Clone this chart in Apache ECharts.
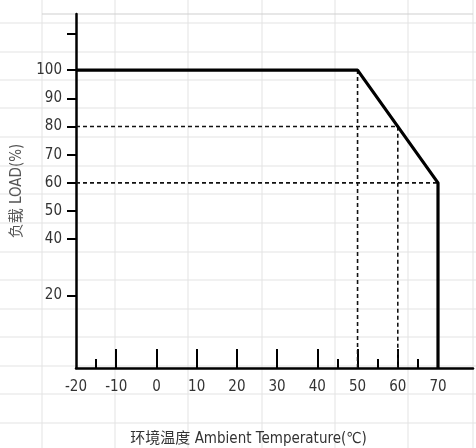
<!DOCTYPE html>
<html><head><meta charset="utf-8">
<script src="https://cdn.jsdelivr.net/npm/echarts@6/dist/echarts.min.js"></script>
<style>html,body{margin:0;padding:0;background:#fff}#c{width:476px;height:448px}</style>
</head><body><div id="c"></div>
<script>
// ---- data ----
var xMin = -20, xMax = 78.7;
var yMin = -5.7, yMax = 119.9;
var curveTemp = [-20, 50, 70, 70];
var curveLoad = [100, 100, 60, yMin];
var xLabelValues = [-20, -15, -10, 0, 10, 20, 30, 40, 50, 60, 70];
var xMajorTicks = [-10, 0, 10, 20, 30, 40, 50, 60];
var xMinorTicks = [-15, 45, 55, 65];
var yLabelValues = [20, 40, 50, 60, 70, 80, 90, 100];
var yTickValues = [20, 40, 50, 60, 70, 80, 90, 100, 113];
var guide80 = {temp: 60, load: 80};
var guide60 = {temp: 70, load: 60};
var knee = {temp: 50, load: 100};

function zip(a, b) { return a.map(function (v, i) { return [v, b[i]]; }); }

var FONT = '"Liberation Sans Narrow","DejaVu Sans Condensed","Noto Sans CJK SC",sans-serif';
var dash = {color: '#111', width: 1.6, type: [4, 3]};

// spreadsheet background lines (decoration)
var g = [];
var vx = [42, 115, 188, 262, 335, 408, 473];
var hy = [23, 52, 80, 108, 137, 166, 194, 223, 252, 280, 309, 337, 366, 394, 423];
vx.forEach(function (x) { g.push({type: 'line', z: -10, shape: {x1: x, y1: 0, x2: x, y2: 448}, style: {stroke: '#e3e3e3', lineWidth: 1}}); });
hy.forEach(function (y) { g.push({type: 'line', z: -10, shape: {x1: 0, y1: y, x2: 476, y2: y}, style: {stroke: '#e3e3e3', lineWidth: 1}}); });
g.push({type: 'line', z: -9, shape: {x1: 42, y1: 14, x2: 473, y2: 14}, style: {stroke: '#cfcfcf', lineWidth: 1}});

var chart = echarts.init(document.getElementById('c'));
chart.setOption({
  animation: false,
  backgroundColor: '#fff',
  graphic: g,
  grid: {left: 76, right: 3, top: 14, bottom: 80, containLabel: false, outerBoundsMode: 'none'},
  xAxis: [{
    type: 'value', min: xMin, max: xMax, position: 'bottom',
    name: '环境温度 Ambient Temperature(℃)', nameLocation: 'middle', nameGap: 64,
    nameTextStyle: {fontFamily: FONT, fontSize: 15, color: '#333', padding: [0, 52, 0, 0]},
    axisLine: {show: true, onZero: false, lineStyle: {color: '#000', width: 2.5}},
    axisTick: {show: true, inside: true, length: 19, customValues: xMajorTicks, lineStyle: {color: '#000', width: 2}},
    axisLabel: {show: true, showMinLabel: true, showMaxLabel: true, customValues: xLabelValues, margin: 12, fontFamily: FONT, fontSize: 15, color: '#333'},
    splitLine: {show: false}
  }, {
    type: 'value', min: xMin, max: xMax, position: 'bottom',
    axisLine: {show: false, onZero: false},
    axisTick: {show: true, inside: true, length: 9, customValues: xMinorTicks, lineStyle: {color: '#000', width: 2}},
    axisLabel: {show: false},
    splitLine: {show: false}
  }],
  yAxis: {
    type: 'value', min: yMin, max: yMax, position: 'left',
    name: '负载 LOAD(%)', nameLocation: 'middle', nameGap: 51,
    nameTextStyle: {fontFamily: FONT, fontSize: 15, color: '#555'},
    axisLine: {show: true, onZero: false, lineStyle: {color: '#000', width: 2.5}},
    axisTick: {show: true, length: 9, customValues: yTickValues, lineStyle: {color: '#000', width: 2}},
    axisLabel: {show: true, customValues: yLabelValues, margin: 14, fontFamily: FONT, fontSize: 15, color: '#333'},
    splitLine: {show: false}
  },
  series: [
    {type: 'line', data: [[xMin, guide80.load], [guide80.temp, guide80.load], [guide80.temp, yMin]], symbol: 'none', lineStyle: dash, z: 2},
    {type: 'line', data: [[xMin, guide60.load], [guide60.temp, guide60.load]], symbol: 'none', lineStyle: dash, z: 2},
    {type: 'line', data: [[knee.temp, knee.load], [knee.temp, yMin]], symbol: 'none', lineStyle: dash, z: 2},
    {type: 'line', data: zip(curveTemp, curveLoad), symbol: 'none', lineStyle: {color: '#000', width: 3.2}, z: 5}
  ]
});
</script></body></html>
